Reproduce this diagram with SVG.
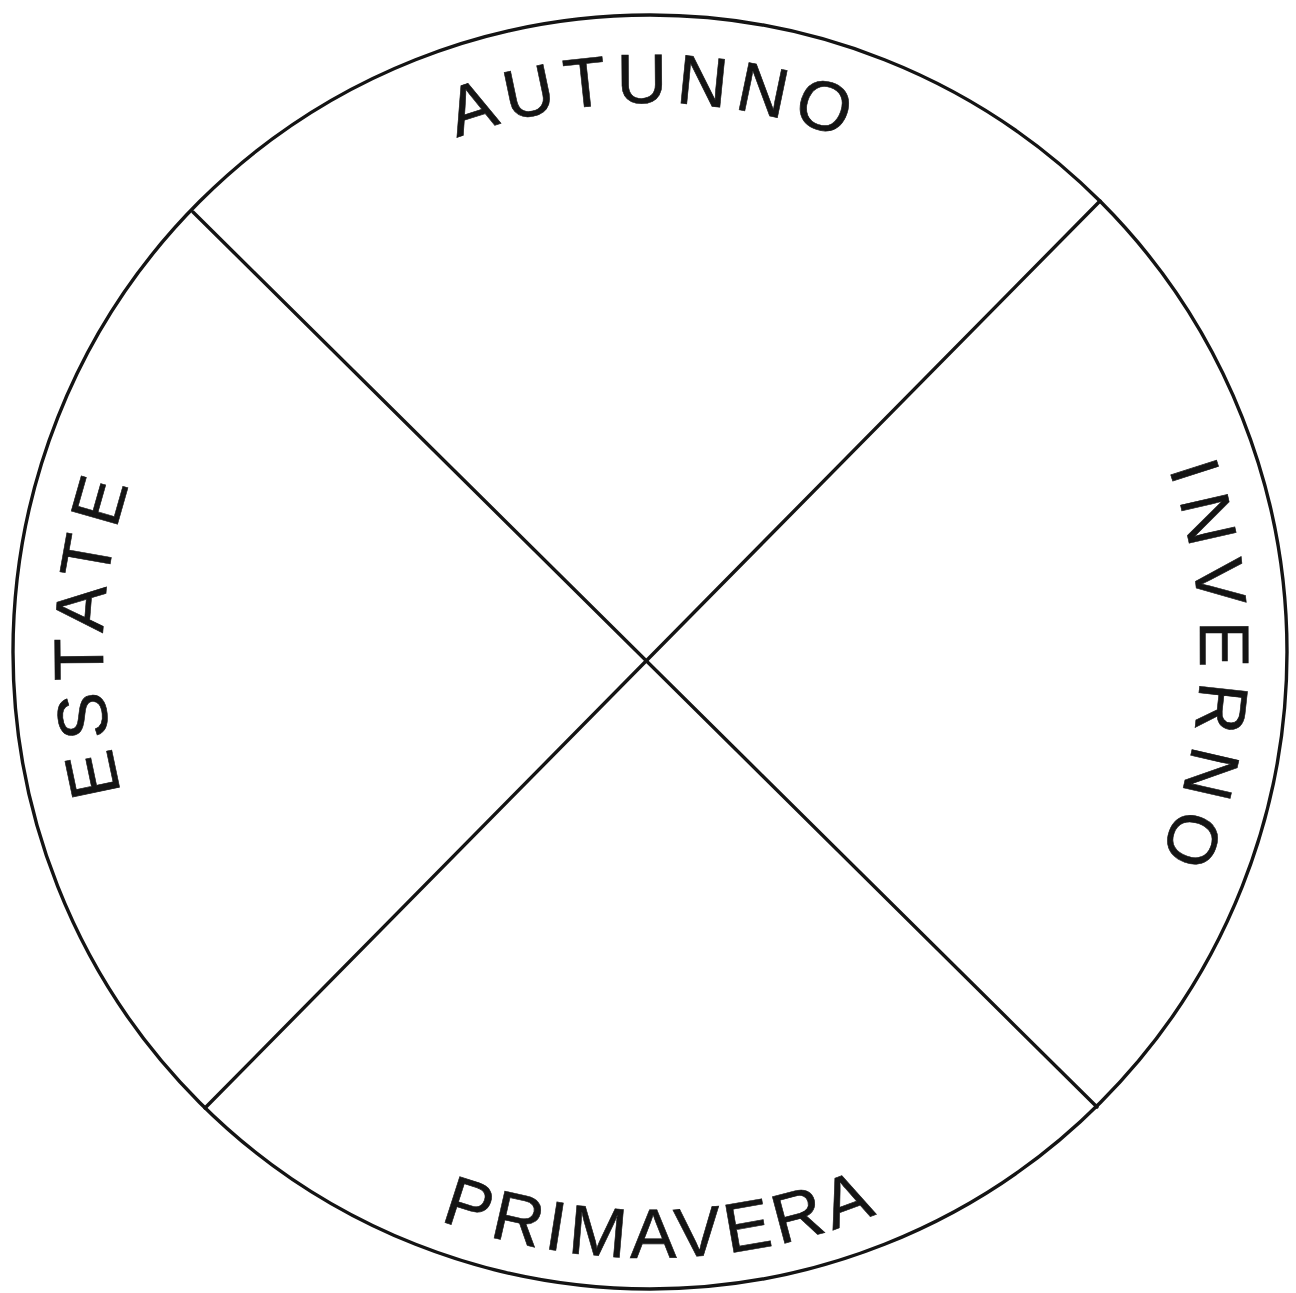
<svg xmlns="http://www.w3.org/2000/svg" width="1296" height="1293" viewBox="0 0 1296 1293">
<style>
.ln{fill:none;stroke:#141414;stroke-width:3.4;stroke-linecap:round}
.lbl{font-family:"Liberation Sans",Arial,sans-serif;font-size:70px;fill:#141414;stroke:#141414;stroke-width:0.6}
</style>
<defs>
<path id="pTop" d="M 101,652 A 549 549 0 0 1 1199,652"/>
<path id="pRight" d="M 650,102 A 550 550 0 0 1 650,1202"/>
<path id="pLeft" d="M 650,1199 A 547 547 0 0 1 650,105"/>
<path id="pBottom" d="M 44,652 A 606 606 0 0 0 1256,652"/>
</defs>
<rect width="1296" height="1293" fill="#ffffff"/>
<g id="wheel">
<circle class="ln" cx="650" cy="652" r="637"/>
</g>
<g id="connectors">
<line class="ln" x1="193" y1="212" x2="1097" y2="1107"/>
<line class="ln" x1="1100" y1="201" x2="205" y2="1108"/>
</g>
<g id="autunno">
<text class="lbl" letter-spacing="8" text-anchor="middle"><textPath href="#pTop" startOffset="866">AUTUNNO</textPath></text>
</g>
<g id="inverno">
<text class="lbl" letter-spacing="13" text-anchor="middle"><textPath href="#pRight" startOffset="882">INVERNO</textPath></text>
</g>
<g id="primavera">
<text class="lbl" letter-spacing="5" text-anchor="middle"><textPath href="#pBottom" startOffset="963">PRIMAVERA</textPath></text>
</g>
<g id="estate">
<text class="lbl" letter-spacing="10" text-anchor="middle"><textPath href="#pLeft" startOffset="878">ESTATE</textPath></text>
</g>
</svg>
